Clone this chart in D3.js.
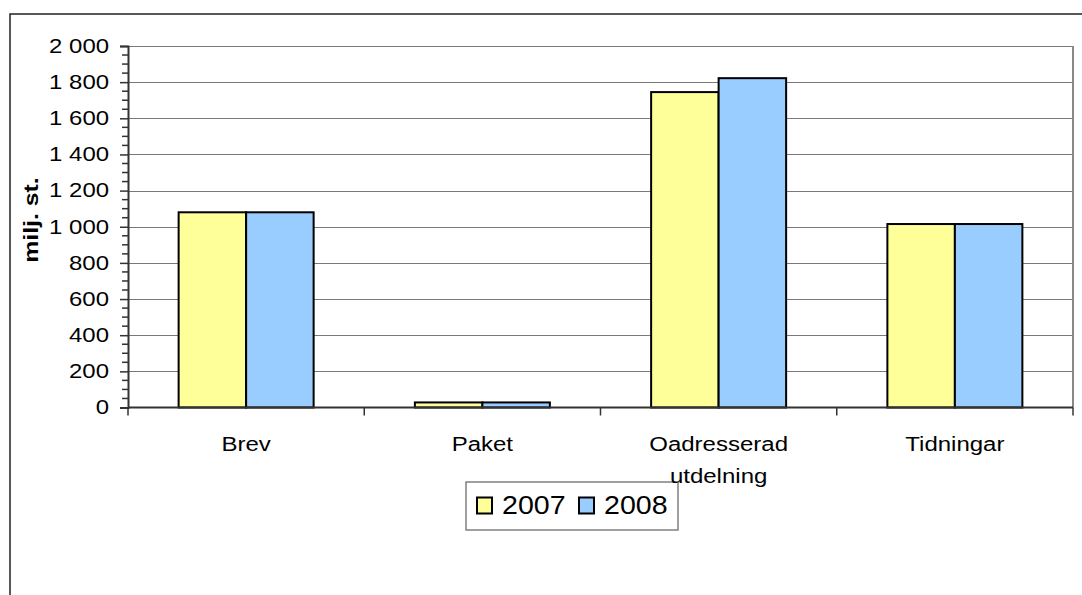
<!DOCTYPE html>
<html><head><meta charset="utf-8">
<script src="https://cdn.jsdelivr.net/npm/d3@7/dist/d3.min.js"></script>
<style>
html,body{margin:0;padding:0;background:#fff;}
svg{display:block;}
text{font-family:"Liberation Sans",Arial,sans-serif;fill:#000;}
</style></head>
<body>
<svg id="chart" width="1082" height="595"></svg>
<script>
const categories = ["Brev", "Paket", "Oadresserad utdelning", "Tidningar"];
const seriesNames = ["2007", "2008"];
const values2007 = [1080, 28, 1745, 1015];
const values2008 = [1080, 28, 1822, 1015];
const seriesColors = ["#FFFF99", "#99CCFF"];
const yTicks = [0, 200, 400, 600, 800, 1000, 1200, 1400, 1600, 1800, 2000];
const yTickLabels = ["0", "200", "400", "600", "800", "1 000", "1 200", "1 400", "1 600", "1 800", "2 000"];
const yTitle = "milj. st.";

const svg = d3.select("#chart");
const W = 1082, H = 595;
const plot = {left: 128, right: 1073, top: 46, bottom: 407.5};

// stretch glyphs horizontally (wide rendering in the reference)
function stretch(sel, f) {
  sel.each(function() {
    const L = this.getComputedTextLength();
    this.setAttribute("textLength", L * f);
    this.setAttribute("lengthAdjust", "spacingAndGlyphs");
  });
}

// outer chart frame (extends beyond the window)
svg.append("rect").attr("x", 10).attr("y", 14).attr("width", W + 20).attr("height", H + 20)
  .attr("fill", "#fff").attr("stroke", "#222").attr("stroke-width", 1.5);

const x = d3.scaleBand().domain(categories).range([plot.left, plot.right]).paddingInner(0).paddingOuter(0);
const y = d3.scaleLinear().domain([0, 2000]).range([plot.bottom, plot.top]);

// gridlines
svg.append("g").selectAll("line").data(yTicks.filter(d => d > 0)).join("line")
  .attr("x1", plot.left).attr("x2", plot.right)
  .attr("y1", d => Math.round(y(d)) + 0.5).attr("y2", d => Math.round(y(d)) + 0.5)
  .attr("stroke", "#7a7a7a").attr("stroke-width", 1);

// right plot border
svg.append("line").attr("x1", plot.right).attr("x2", plot.right)
  .attr("y1", y(2000)).attr("y2", plot.bottom)
  .attr("stroke", "#888").attr("stroke-width", 2);

// bars
const barW = x.bandwidth() / 3.5;
const series = [values2007, values2008];
series.forEach((vals, si) => {
  svg.append("g").selectAll("rect").data(categories).join("rect")
    .attr("x", (c) => x(c) + 0.75 * barW + si * barW)
    .attr("y", (c, i) => y(vals[i]))
    .attr("width", barW)
    .attr("height", (c, i) => y(0) - y(vals[i]))
    .attr("fill", seriesColors[si])
    .attr("stroke", "#000").attr("stroke-width", 2);
});

// y axis major
const yAxis = d3.axisLeft(y).tickValues(yTicks).tickSize(8).tickPadding(11)
  .tickFormat((d, i) => yTickLabels[i]);
const gy = svg.append("g").attr("transform", `translate(${plot.left},0)`).call(yAxis);
gy.select(".domain").attr("stroke", "#333").attr("stroke-width", 2);
gy.selectAll(".tick line").attr("stroke", "#333").attr("stroke-width", 1.5);
const yt = gy.selectAll(".tick text").attr("font-size", 21).attr("font-family", "Liberation Sans, Arial, sans-serif")
  .attr("dy", "0.3em").attr("fill", "#000");
stretch(yt, 1.14);

// y axis minor ticks
const minor = d3.range(0, 2001, 50).filter(v => v % 200 !== 0);
svg.append("g").selectAll("line").data(minor).join("line")
  .attr("x1", plot.left - 6).attr("x2", plot.left)
  .attr("y1", d => y(d)).attr("y2", d => y(d))
  .attr("stroke", "#333").attr("stroke-width", 1.5);

// x axis
svg.append("line").attr("x1", plot.left).attr("x2", plot.right)
  .attr("y1", y(0)).attr("y2", y(0)).attr("stroke", "#333").attr("stroke-width", 2);
const bounds = categories.map(c => x(c)).concat([plot.right]);
svg.append("g").selectAll("line").data(bounds).join("line")
  .attr("x1", d => d).attr("x2", d => d)
  .attr("y1", y(0)).attr("y2", y(0) + 8)
  .attr("stroke", "#333").attr("stroke-width", 1.5);

// legend
const lg = svg.append("g");
lg.append("rect").attr("x", 466).attr("y", 482).attr("width", 212).attr("height", 48)
  .attr("fill", "none").attr("stroke", "#808080").attr("stroke-width", 1.5);
const legendItemX = [476, 578];
seriesNames.forEach((s, i) => {
  lg.append("rect").attr("x", legendItemX[i] + 1).attr("y", 497.5).attr("width", 15).attr("height", 16)
    .attr("fill", seriesColors[i]).attr("stroke", "#000").attr("stroke-width", 2);
  const t = lg.append("text").attr("x", legendItemX[i] + 26).attr("y", 513.5)
    .attr("font-size", 26).text(s);
  stretch(t, 1.1);
});

// category labels
categories.forEach(c => {
  const lines = c.split(" ");
  const cx = x(c) + x.bandwidth() / 2;
  const t = svg.append("text").attr("text-anchor", "middle").attr("font-size", 20)
    .attr("x", cx).attr("y", 450.5);
  lines.forEach((ln, i) => {
    const ts = t.append("tspan").attr("x", cx).attr("dy", i === 0 ? 0 : 32.5).text(ln);
    stretch(ts, 1.2);
  });
});

// y title
const tt = svg.append("text").attr("transform", "translate(37.5,220) rotate(-90)")
  .attr("text-anchor", "middle").attr("font-size", 20).attr("font-weight", "bold")
  .text(yTitle);
stretch(tt, 1.24);
</script>
</body></html>
